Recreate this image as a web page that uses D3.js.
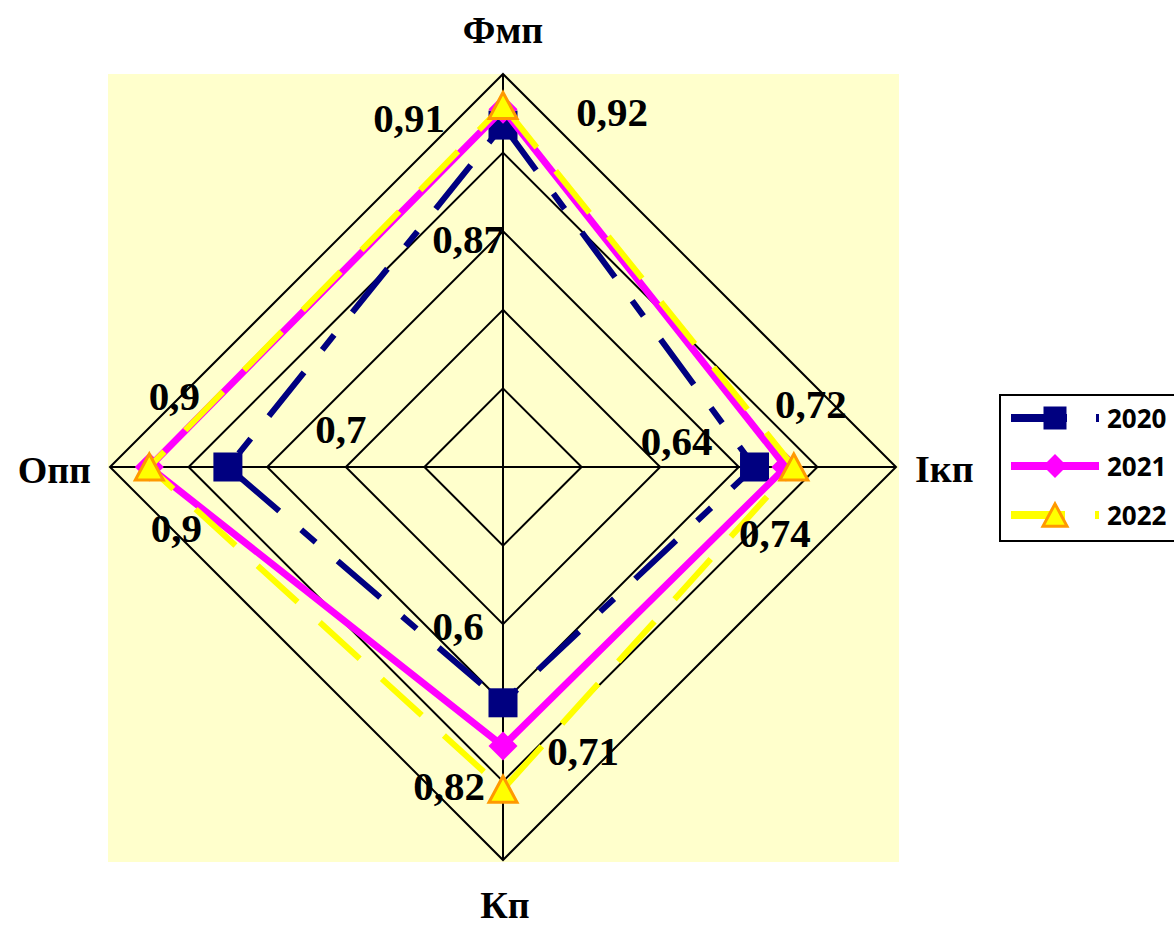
<!DOCTYPE html>
<html>
<head>
<meta charset="utf-8">
<script src="https://cdn.jsdelivr.net/npm/d3@7/dist/d3.min.js"></script>
<style>
  html, body { margin: 0; padding: 0; background: #ffffff; }
  svg { display: block; }
</style>
</head>
<body>
<svg id="chart" width="1174" height="926"></svg>
<script>
// Indicators on the four radar axes (clockwise from the top)
const categories = ["Фмп", "Ікп", "Кп", "Опп"];
const years = ["2020", "2021", "2022"];
const values2020 = [0.87, 0.64, 0.60, 0.70];
const values2021 = [0.91, 0.72, 0.71, 0.90];
const values2022 = [0.92, 0.74, 0.82, 0.90];
const ringTicks = [0.2, 0.4, 0.6, 0.8, 1.0];

const seriesValues = [values2020, values2021, values2022];

// Geometry
const cx = 503, cy = 467, R = 393;
const r = d3.scaleLinear().domain([0, 1]).range([0, R]);
// Axes placed at 90° steps, starting from the top
const ang = d3.scaleLinear().domain([0, categories.length]).range([-Math.PI / 2, Math.PI * 1.5]);
const pt = (c, v) => {
  const a = ang(categories.indexOf(c));
  return [cx + r(v) * Math.cos(a), cy + r(v) * Math.sin(a)];
};

// Visual styles per series
const styles = [
  { color: "#000080", width: 6, dash: "56,29,19,29", marker: "square" },
  { color: "#FF00FF", width: 7, dash: null, marker: "diamond" },
  { color: "#FFFF00", width: 6, dash: "54,30", marker: "triangle" }
];

// Label placement (pixel offsets from the labelled point to the text baseline centre)
const labelOffsets = [
  [[-35, 128], [-78, -12], [-45, -63], [113, -24]],
  [[-94, 23], [25, -49], [80, 19], [25, -57]],
  [[109, 21], [-19, 80], [-54, 11], [27, 75]]
];

const svg = d3.select("#chart");

// Plot area background
svg.append("rect")
  .attr("x", 108).attr("y", 74).attr("width", 791).attr("height", 788)
  .attr("fill", "#FFFFCC");

const g = svg.append("g");

// Grid rings
const ringLine = d3.line();
ringTicks.forEach(t => {
  const pts = categories.map(c => pt(c, t));
  g.append("path")
    .attr("d", ringLine(pts) + "Z")
    .attr("fill", "none")
    .attr("stroke", "#000")
    .attr("stroke-width", 2);
});

// Spokes
categories.forEach(c => {
  const [x, y] = pt(c, 1);
  g.append("line")
    .attr("x1", cx).attr("y1", cy).attr("x2", x).attr("y2", y)
    .attr("stroke", "#000").attr("stroke-width", 2);
});

// Marker drawing helper
function drawMarker(sel, type, x, y, size) {
  if (type === "square") {
    sel.append("rect")
      .attr("x", x - size / 2).attr("y", y - size / 2)
      .attr("width", size).attr("height", size)
      .attr("fill", "#000080");
  } else if (type === "diamond") {
    const h = size / 2;
    sel.append("path")
      .attr("d", `M${x},${y - h}L${x + h},${y}L${x},${y + h}L${x - h},${y}Z`)
      .attr("fill", "#FF00FF");
  } else {
    const w = size, h = size * 0.93;
    sel.append("path")
      .attr("d", `M${x},${y - h / 2}L${x + w / 2},${y + h / 2}L${x - w / 2},${y + h / 2}Z`)
      .attr("fill", "#FFFF00")
      .attr("stroke", "#FF9900")
      .attr("stroke-width", 3)
      .attr("stroke-linejoin", "miter");
  }
}

// Series: line then markers, in series order
const markerSizes = [29, 29, 28];
seriesValues.forEach((vals, i) => {
  const s = styles[i];
  const pts = categories.map((c, j) => pt(c, vals[j]));
  const sg = g.append("g");
  sg.append("path")
    .attr("d", d3.line()(pts) + "Z")
    .attr("fill", "none")
    .attr("stroke", s.color)
    .attr("stroke-width", s.width)
    .attr("stroke-linejoin", "miter")
    .attr("stroke-dasharray", s.dash);
  pts.forEach(([x, y]) => drawMarker(sg, s.marker, x, y, markerSizes[i]));
});

// Value labels
const fmt = v => String(+v.toFixed(2)).replace(".", ",");
seriesValues.forEach((vals, i) => {
  categories.forEach((c, j) => {
    const [x, y] = pt(c, vals[j]);
    const [dx, dy] = labelOffsets[i][j];
    svg.append("text")
      .attr("x", x + dx).attr("y", y + dy)
      .attr("text-anchor", "middle")
      .attr("font-family", "'Liberation Serif', 'Times New Roman', serif")
      .attr("font-weight", "bold")
      .attr("font-size", 41)
      .attr("fill", "#000")
      .text(fmt(vals[j]));
  });
});

// Axis titles
const titlePos = [[503, 43, "middle"], [915, 482, "start"], [505, 918, "middle"], [91, 483, "end"]];
categories.forEach((c, j) => {
  const [x, y, anchor] = titlePos[j];
  svg.append("text")
    .attr("x", x).attr("y", y)
    .attr("text-anchor", anchor)
    .attr("font-family", "'Liberation Serif', 'Times New Roman', serif")
    .attr("font-weight", "bold")
    .attr("font-size", 38)
    .attr("fill", "#000")
    .text(c);
});

// Legend
const lg = svg.append("g");
lg.append("rect")
  .attr("x", 1000).attr("y", 395).attr("width", 185).attr("height", 146)
  .attr("fill", "#fff").attr("stroke", "#000").attr("stroke-width", 2);
const legendY = [418, 466, 515];
const legendMarker = [23, 24, 24];
years.forEach((yr, i) => {
  const s = styles[i];
  const y = legendY[i];
  lg.append("line")
    .attr("x1", 1011).attr("x2", 1099).attr("y1", y).attr("y2", y)
    .attr("stroke", s.color).attr("stroke-width", 8)
    .attr("stroke-dasharray", s.dash);
  drawMarker(lg, s.marker, 1055, y, legendMarker[i]);
  lg.append("text")
    .attr("x", 1107).attr("y", y + 10)
    .attr("font-family", "'Open Sans', sans-serif")
    .attr("font-weight", "bold")
    .attr("font-size", 26)
    .attr("fill", "#000")
    .text(yr);
});
</script>
</body>
</html>
